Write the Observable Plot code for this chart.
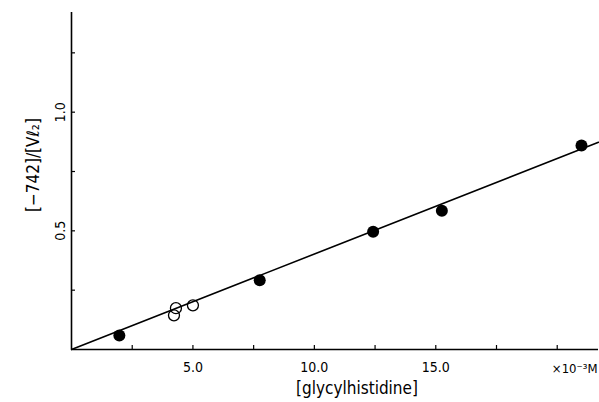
<!DOCTYPE html>
<html>
<head>
<meta charset="utf-8">
<script src="https://cdn.jsdelivr.net/npm/d3@7"></script>
<script src="https://cdn.jsdelivr.net/npm/@observablehq/plot@0.6"></script>
<style>
  html, body { margin: 0; padding: 0; background: #fff; }
  svg { font-family: "DejaVu Sans Condensed", "DejaVu Sans", sans-serif; font-stretch: condensed; }
</style>
</head>
<body>
<div id="chart"></div>
<script>
// Data
const filledX = [1.97, 7.75, 12.42, 15.25, 21.0];
const filledY = [0.059, 0.292, 0.496, 0.585, 0.860];
const openX = [4.22, 4.30, 5.0];
const openY = [0.144, 0.174, 0.186];
const fitX = [0, 21.7];
const fitY = [0, 0.873];
const xTickValues = [2.5, 5, 7.5, 10, 12.5, 15, 17.5, 20];
const xTickLabels = [5, 10, 15];
const yTickValues = [0.25, 0.5, 0.75, 1.0, 1.25];
const yTickLabels = [0.5, 1.0];
const xTitle = "[glycylhistidine]";
const yTitle = "[−742]/[Vℓ₂]";
const xUnit = "×10⁻³M";

const filled = filledX.map((x, i) => ({x, y: filledY[i]}));
const open = openX.map((x, i) => ({x, y: openY[i]}));
const fit = fitX.map((x, i) => ({x, y: fitY[i]}));

const chart = Plot.plot({
  width: 599,
  height: 402,
  marginLeft: 71,
  marginRight: 1,
  marginTop: 12,
  marginBottom: 53,
  x: {domain: [0, 21.7], label: null},
  y: {domain: [0, 1.42], label: null},
  style: {fontSize: "14px", color: "#000"},
  marks: [
    Plot.ruleY([0], {stroke: "#000", strokeWidth: 1.6}),
    Plot.ruleX([0], {stroke: "#000", strokeWidth: 1.6}),
    Plot.axisX(xTickValues, {tickSize: -4, tickFormat: () => "", strokeWidth: 1.2, label: null}),
    Plot.axisX(xTickLabels, {tickSize: 0, tickPadding: 13, tickFormat: d3.format(".1f"), fontSize: 14, label: null}),
    Plot.axisY(yTickValues, {tickSize: -4, tickFormat: () => "", strokeWidth: 1.2, label: null}),
    Plot.text(yTickLabels, {frameAnchor: "left", y: d => d, text: d3.format(".1f"), rotate: -90, dx: -11, textAnchor: "middle", lineAnchor: "middle", fontSize: 14}),
    Plot.line(fit, {x: "x", y: "y", stroke: "#000", strokeWidth: 1.6}),
    Plot.dot(filled, {x: "x", y: "y", r: 6, fill: "#000", stroke: "none"}),
    Plot.dot(open, {x: "x", y: "y", r: 5.5, fill: "none", stroke: "#000", strokeWidth: 1.3}),
    Plot.text([xUnit], {frameAnchor: "bottom-right", text: d => d, dx: -1, dy: 23, textAnchor: "end", lineAnchor: "bottom", fontSize: 13}),
    Plot.text([xTitle], {frameAnchor: "bottom", text: d => d, dx: 22, dy: 39, lineAnchor: "middle", fontSize: 17}),
    Plot.text([yTitle], {frameAnchor: "left", text: d => d, rotate: -90, dx: -38, dy: -16, textAnchor: "middle", lineAnchor: "middle", fontSize: 17})
  ]
});
document.getElementById("chart").appendChild(chart);
</script>
</body>
</html>
